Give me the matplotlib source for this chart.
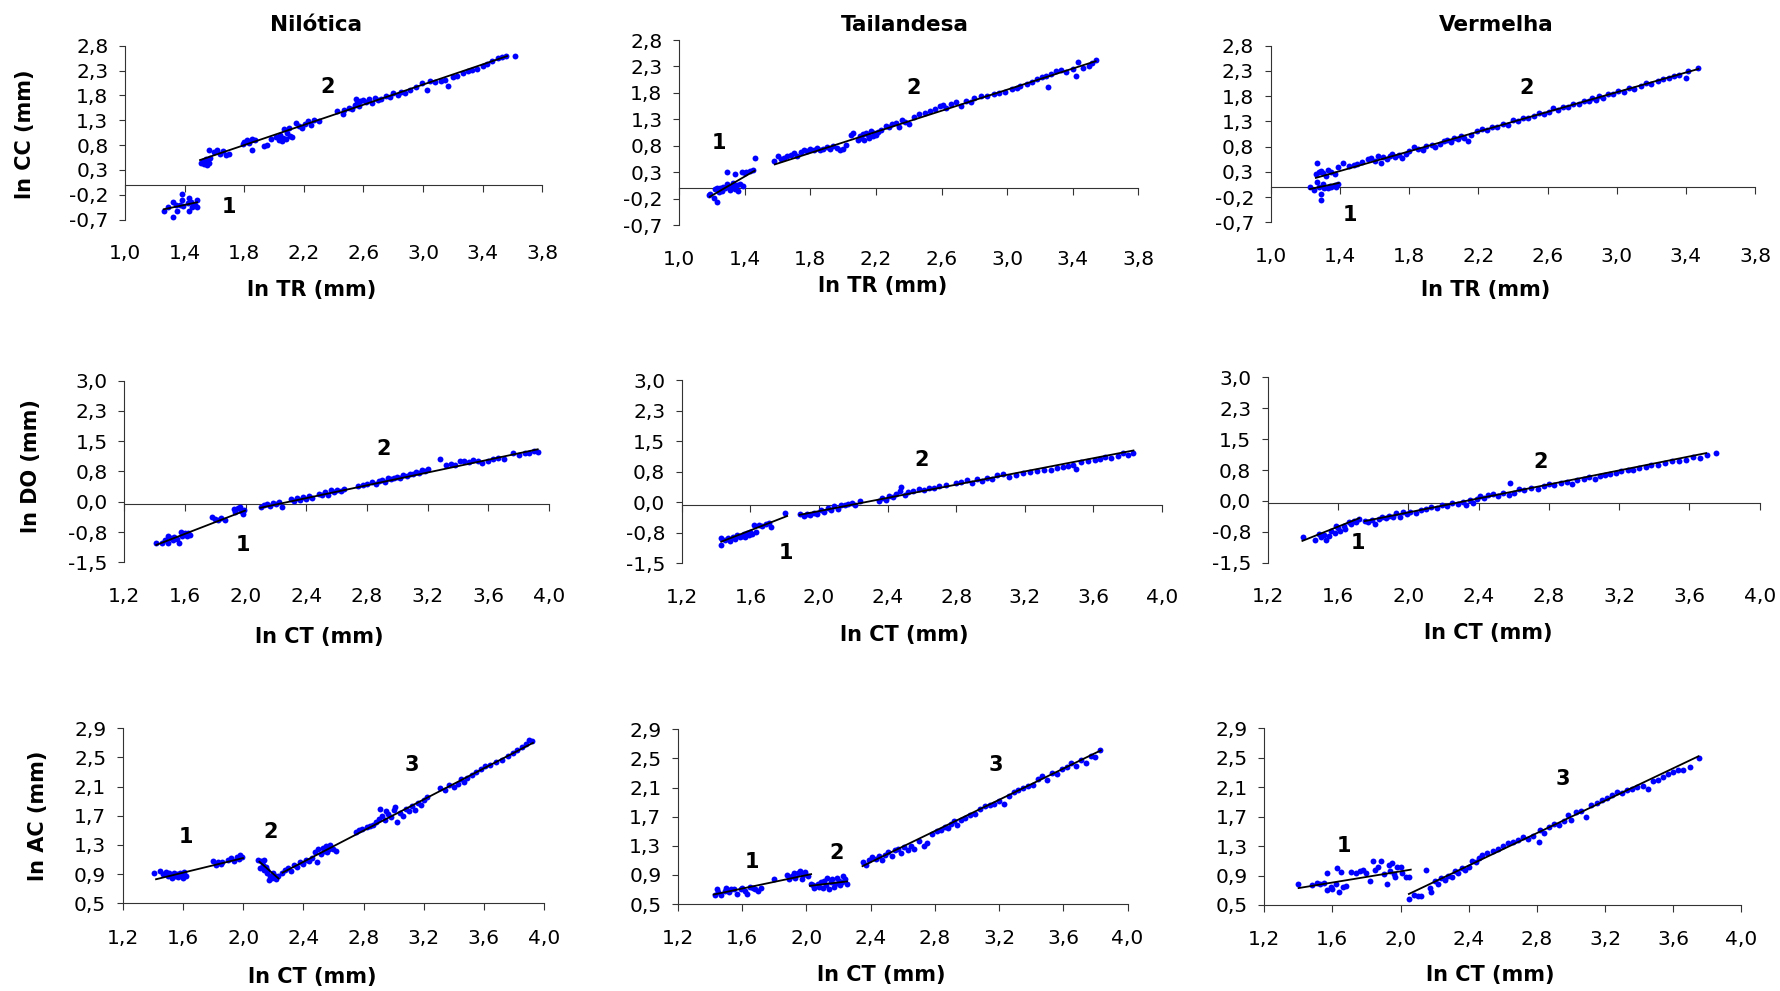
import matplotlib
matplotlib.use('Agg')
import matplotlib.pyplot as plt

W, H = 1780, 991
plt.rcParams['font.family'] = 'DejaVu Sans'

# ---------------- dados ----------------
# linha 1: ln CC x ln TR
nil_cc_x = [1.26, 1.29, 1.32, 1.32, 1.34, 1.35, 1.37, 1.38, 1.38, 1.39,
            1.42, 1.43, 1.43, 1.44, 1.45, 1.47, 1.48, 1.48,
            1.51, 1.52, 1.53, 1.54, 1.55, 1.55, 1.56, 1.56, 1.57, 1.60,
            1.62, 1.64, 1.66, 1.68, 1.70, 1.79, 1.80, 1.82, 1.83, 1.85,
            1.85, 1.87, 1.93, 1.95, 1.98, 2.01, 2.03, 2.04, 2.05, 2.06,
            2.07, 2.08, 2.09, 2.10, 2.11, 2.12, 2.15, 2.17, 2.19, 2.21,
            2.23, 2.25, 2.27, 2.30, 2.42, 2.46, 2.47, 2.50, 2.52, 2.54,
            2.55, 2.56, 2.57, 2.58, 2.60, 2.62, 2.64, 2.66, 2.68, 2.70,
            2.72, 2.75, 2.78, 2.80, 2.83, 2.85, 2.88, 2.91, 2.95, 2.99,
            3.03, 3.05, 3.08, 3.12, 3.15, 3.17, 3.20, 3.23, 3.27, 3.30,
            3.33, 3.36, 3.40, 3.43, 3.46, 3.50, 3.53, 3.56, 3.62]
nil_cc_y = [-0.53, -0.45, -0.34, -0.64, -0.41, -0.52, -0.40, -0.19, -0.31, -0.43,
            -0.37, -0.27, -0.53, -0.34, -0.44, -0.41, -0.31, -0.44,
            0.44, 0.48, 0.42, 0.52, 0.40, 0.47, 0.70, 0.45, 0.55, 0.66,
            0.70, 0.63, 0.68, 0.60, 0.62, 0.82, 0.86, 0.90, 0.84, 0.70,
            0.92, 0.90, 0.78, 0.80, 0.92, 0.96, 0.90, 1.00, 0.88, 0.95,
            1.12, 0.92, 1.05, 1.15, 0.98, 0.96, 1.25, 1.18, 1.15, 1.22,
            1.28, 1.20, 1.30, 1.28, 1.48, 1.42, 1.50, 1.55, 1.52, 1.60,
            1.72, 1.64, 1.58, 1.68, 1.70, 1.66, 1.72, 1.65, 1.74, 1.70,
            1.72, 1.78, 1.76, 1.84, 1.80, 1.86, 1.84, 1.90, 1.96, 2.04,
            1.90, 2.08, 2.06, 2.10, 2.12, 1.98, 2.18, 2.20, 2.26, 2.30,
            2.32, 2.34, 2.40, 2.44, 2.50, 2.55, 2.58, 2.60, 2.59]
nil_cc_fx = [[1.26, 1.483], [1.503, 3.564]]
nil_cc_fy = [[-0.49, -0.35], [0.50, 2.59]]

tai_cc_x = [1.18, 1.19, 1.21, 1.22, 1.23, 1.23, 1.24, 1.25, 1.26, 1.27,
            1.28, 1.29, 1.29, 1.30, 1.31, 1.32, 1.33, 1.34, 1.34, 1.35,
            1.36, 1.37, 1.38, 1.39, 1.40, 1.41, 1.43, 1.45, 1.46,
            1.58, 1.60, 1.62, 1.64, 1.66, 1.68, 1.70, 1.72, 1.74, 1.76,
            1.78, 1.80, 1.82, 1.84, 1.86, 1.88, 1.90, 1.92, 1.94, 1.96,
            1.98, 2.00, 2.02, 2.05, 2.06, 2.09, 2.10, 2.11, 2.12, 2.13,
            2.14, 2.15, 2.16, 2.17, 2.18, 2.19, 2.20, 2.21, 2.23, 2.26,
            2.28, 2.30, 2.32, 2.34, 2.36, 2.38, 2.40, 2.43, 2.46, 2.50,
            2.53, 2.56, 2.59, 2.61, 2.63, 2.66, 2.69, 2.72, 2.75, 2.78,
            2.80, 2.84, 2.88, 2.92, 2.95, 2.99, 3.03, 3.06, 3.08, 3.12,
            3.15, 3.18, 3.21, 3.24, 3.25, 3.27, 3.30, 3.33, 3.36, 3.40,
            3.42, 3.43, 3.46, 3.50, 3.52, 3.54]
tai_cc_y = [-0.12, -0.11, -0.19, -0.02, -0.26, 0.00, -0.08, 0.00, -0.05, 0.02,
            0.00, 0.30, 0.08, 0.05, -0.03, 0.04, 0.10, 0.27, -0.02, 0.06,
            -0.05, 0.08, 0.31, 0.05, 0.28, 0.31, 0.32, 0.35, 0.58,
            0.52, 0.60, 0.55, 0.57, 0.60, 0.62, 0.66, 0.60, 0.68, 0.72,
            0.70, 0.74, 0.72, 0.76, 0.73, 0.75, 0.78, 0.74, 0.80, 0.76,
            0.72, 0.74, 0.82, 1.00, 1.05, 0.92, 0.98, 0.95, 1.02, 0.92,
            1.05, 1.00, 0.94, 1.08, 0.98, 1.04, 1.00, 1.06, 1.10, 1.18,
            1.16, 1.22, 1.24, 1.15, 1.28, 1.25, 1.22, 1.35, 1.40, 1.42,
            1.45, 1.50, 1.55, 1.58, 1.52, 1.60, 1.62, 1.56, 1.64, 1.62,
            1.70, 1.74, 1.75, 1.78, 1.80, 1.82, 1.88, 1.90, 1.94, 1.96,
            2.00, 2.06, 2.10, 2.12, 1.92, 2.15, 2.22, 2.24, 2.20, 2.26,
            2.12, 2.38, 2.28, 2.30, 2.36, 2.42]
tai_cc_fx = [[1.187, 1.46], [1.583, 3.54]]
tai_cc_fy = [[-0.16, 0.33], [0.45, 2.40]]

ver_cc_x = [1.23, 1.25, 1.27, 1.28, 1.29, 1.29, 1.30, 1.31, 1.33, 1.34,
            1.35, 1.37, 1.38, 1.39,
            1.26, 1.27, 1.28, 1.29, 1.30, 1.32, 1.33, 1.35, 1.37, 1.39,
            1.42, 1.45, 1.48, 1.50, 1.53, 1.56, 1.58, 1.60, 1.62, 1.64,
            1.65, 1.67, 1.69, 1.70, 1.72, 1.74, 1.76, 1.78, 1.80, 1.83,
            1.85, 1.88, 1.90, 1.93, 1.95, 1.98, 2.00, 2.02, 2.04, 2.06,
            2.08, 2.10, 2.12, 2.14, 2.16, 2.19, 2.22, 2.25, 2.28, 2.31,
            2.34, 2.37, 2.40, 2.43, 2.46, 2.49, 2.52, 2.55, 2.58, 2.61,
            2.63, 2.66, 2.69, 2.72, 2.75, 2.78, 2.81, 2.84, 2.86, 2.88,
            2.90, 2.92, 2.95, 2.98, 3.01, 3.04, 3.07, 3.10, 3.14, 3.17,
            3.20, 3.24, 3.27, 3.30, 3.33, 3.36, 3.40, 3.41, 3.47]
ver_cc_y = [0.00, -0.06, 0.10, 0.00, -0.13, -0.26, 0.05, -0.02, -0.03, 0.02,
            0.00, 0.04, 0.00, 0.06,
            0.26, 0.48, 0.30, 0.32, 0.27, 0.22, 0.34, 0.30, 0.26, 0.40,
            0.48, 0.42, 0.44, 0.46, 0.50, 0.56, 0.58, 0.52, 0.62, 0.48,
            0.60, 0.55, 0.62, 0.66, 0.60, 0.64, 0.58, 0.66, 0.72, 0.80,
            0.76, 0.74, 0.82, 0.84, 0.80, 0.86, 0.92, 0.94, 0.90, 0.98,
            0.95, 1.02, 0.98, 0.92, 1.04, 1.10, 1.14, 1.12, 1.19, 1.18,
            1.25, 1.22, 1.32, 1.30, 1.37, 1.36, 1.40, 1.46, 1.44, 1.48,
            1.56, 1.53, 1.59, 1.58, 1.65, 1.64, 1.70, 1.70, 1.76, 1.73,
            1.80, 1.76, 1.84, 1.85, 1.90, 1.89, 1.96, 1.95, 2.00, 2.06,
            2.05, 2.10, 2.14, 2.15, 2.20, 2.22, 2.15, 2.30, 2.35]
ver_cc_fx = [[1.228, 1.394], [1.261, 3.473]]
ver_cc_fy = [[-0.04, 0.08], [0.18, 2.34]]

# linha 2: ln DO x ln CT
nil_do_x = [1.41, 1.45, 1.47, 1.49, 1.49, 1.51, 1.52, 1.53, 1.55, 1.56,
            1.57, 1.58, 1.59, 1.60, 1.61, 1.62, 1.63, 1.78, 1.80, 1.82,
            1.84, 1.86, 1.92, 1.93, 1.95, 1.96, 1.97, 1.98, 1.99,
            2.10, 2.12, 2.14, 2.16, 2.18, 2.20, 2.22, 2.24, 2.30, 2.32,
            2.34, 2.36, 2.38, 2.40, 2.42, 2.44, 2.48, 2.50, 2.52, 2.54,
            2.56, 2.58, 2.60, 2.63, 2.65, 2.74, 2.77, 2.80, 2.83, 2.86,
            2.88, 2.90, 2.92, 2.94, 2.96, 2.98, 3.00, 3.02, 3.04, 3.06,
            3.08, 3.10, 3.12, 3.14, 3.16, 3.18, 3.20, 3.28, 3.32, 3.35,
            3.38, 3.41, 3.44, 3.47, 3.50, 3.53, 3.56, 3.60, 3.63, 3.66,
            3.70, 3.76, 3.80, 3.84, 3.87, 3.90, 3.93]
nil_do_y = [-1.03, -1.02, -0.95, -1.01, -0.84, -0.90, -0.95, -0.88, -0.92, -1.03,
            -0.76, -0.85, -0.80, -0.78, -0.86, -0.78, -0.82, -0.38, -0.42, -0.46,
            -0.40, -0.45, -0.18, -0.25, -0.15, -0.12, -0.22, -0.30, -0.20,
            -0.12, -0.08, -0.05, -0.10, -0.02, -0.06, 0.00, -0.12, 0.08, 0.02,
            0.10, 0.05, 0.12, 0.08, 0.15, 0.10, 0.20, 0.16, 0.24, 0.18,
            0.28, 0.24, 0.30, 0.26, 0.32, 0.40, 0.42, 0.45, 0.48, 0.44,
            0.52, 0.55, 0.50, 0.58, 0.56, 0.60, 0.62, 0.58, 0.66, 0.64,
            0.70, 0.68, 0.74, 0.72, 0.78, 0.76, 0.80, 1.06, 0.90, 0.94,
            0.92, 1.00, 1.02, 0.98, 1.04, 1.00, 0.96, 1.02, 1.06, 1.08,
            1.05, 1.20, 1.16, 1.22, 1.20, 1.26, 1.24]
nil_do_fx = [[1.41, 1.995], [2.096, 3.925]]
nil_do_fy = [[-1.07, -0.22], [-0.15, 1.30]]

tai_do_x = [1.43, 1.43, 1.45, 1.47, 1.48, 1.50, 1.51, 1.52, 1.54, 1.55,
            1.56, 1.57, 1.58, 1.59, 1.60, 1.61, 1.62, 1.63, 1.65, 1.67,
            1.69, 1.71, 1.72, 1.80,
            1.89, 1.91, 1.93, 1.95, 1.97, 1.99, 2.01, 2.03, 2.05, 2.07,
            2.09, 2.11, 2.13, 2.15, 2.17, 2.19, 2.21, 2.24, 2.35, 2.37,
            2.39, 2.41, 2.43, 2.45, 2.47, 2.48, 2.50, 2.52, 2.55, 2.58,
            2.61, 2.64, 2.67, 2.70, 2.74, 2.80, 2.83, 2.86, 2.89, 2.92,
            2.95, 2.98, 3.01, 3.04, 3.07, 3.11, 3.15, 3.19, 3.23, 3.27,
            3.31, 3.35, 3.39, 3.42, 3.45, 3.48, 3.50, 3.53, 3.57, 3.61,
            3.64, 3.67, 3.70, 3.74, 3.77, 3.80, 3.83]
tai_do_y = [-1.05, -0.89, -0.92, -0.88, -0.95, -0.85, -0.90, -0.80, -0.86, -0.82,
            -0.78, -0.85, -0.76, -0.80, -0.74, -0.78, -0.56, -0.72, -0.56, -0.58,
            -0.54, -0.52, -0.60, -0.26,
            -0.30, -0.34, -0.28, -0.32, -0.26, -0.30, -0.20, -0.24, -0.14, -0.18,
            -0.10, -0.16, -0.06, -0.08, -0.04, -0.02, -0.06, 0.02, 0.04, 0.10,
            0.06, 0.16, 0.12, 0.20, 0.28, 0.38, 0.18, 0.24, 0.28, 0.32,
            0.30, 0.36, 0.34, 0.40, 0.42, 0.46, 0.50, 0.54, 0.48, 0.56,
            0.52, 0.60, 0.58, 0.66, 0.70, 0.62, 0.68, 0.72, 0.74, 0.76,
            0.80, 0.78, 0.84, 0.86, 0.88, 0.92, 0.82, 0.98, 1.00, 1.04,
            1.06, 1.10, 1.08, 1.14, 1.20, 1.16, 1.22]
tai_do_fx = [[1.43, 1.814], [1.887, 3.833]]
tai_do_fy = [[-0.97, -0.34], [-0.31, 1.27]]

ver_do_x = [1.40, 1.47, 1.49, 1.50, 1.52, 1.53, 1.55, 1.56, 1.58, 1.59,
            1.60, 1.61, 1.63, 1.64, 1.66, 1.67, 1.69, 1.70, 1.72,
            1.75, 1.77, 1.79, 1.81, 1.83, 1.85, 1.87, 1.89, 1.91, 1.93,
            1.95, 1.97, 1.99, 2.01, 2.04, 2.07, 2.10, 2.13, 2.16, 2.19,
            2.22, 2.25, 2.28, 2.31, 2.33, 2.35, 2.37, 2.39, 2.41, 2.43,
            2.45, 2.48, 2.51, 2.54, 2.57, 2.58, 2.60, 2.63, 2.66, 2.70,
            2.74, 2.77, 2.80, 2.83, 2.87, 2.90, 2.93, 2.96, 3.00, 3.03,
            3.06, 3.09, 3.12, 3.15, 3.18, 3.21, 3.25, 3.28, 3.31, 3.35,
            3.38, 3.42, 3.46, 3.50, 3.54, 3.58, 3.62, 3.66, 3.70, 3.75]
ver_do_y = [-0.88, -0.95, -0.80, -0.88, -0.82, -0.95, -0.84, -0.72, -0.78, -0.60,
            -0.66, -0.72, -0.60, -0.68, -0.50, -0.56, -0.48, -0.52, -0.44,
            -0.48, -0.52, -0.46, -0.56, -0.44, -0.40, -0.42, -0.36, -0.40, -0.30,
            -0.38, -0.28, -0.32, -0.26, -0.30, -0.22, -0.20, -0.16, -0.18, -0.10,
            -0.12, -0.06, -0.08, -0.02, -0.10, 0.02, -0.06, 0.04, 0.12, 0.08,
            0.14, 0.16, 0.12, 0.18, 0.14, 0.44, 0.20, 0.28, 0.26, 0.32,
            0.30, 0.36, 0.40, 0.38, 0.44, 0.46, 0.42, 0.50, 0.54, 0.58,
            0.52, 0.60, 0.62, 0.66, 0.68, 0.72, 0.74, 0.76, 0.80, 0.82,
            0.86, 0.88, 0.92, 0.96, 0.98, 1.00, 1.06, 1.04, 1.12, 1.16]
ver_do_fx = [[1.396, 1.719], [1.751, 3.695]]
ver_do_fy = [[-0.97, -0.42], [-0.49, 1.16]]

# linha 3: ln AC x ln CT
nil_ac_x = [1.41, 1.45, 1.47, 1.49, 1.50, 1.51, 1.52, 1.53, 1.54, 1.55,
            1.56, 1.57, 1.58, 1.59, 1.60, 1.61, 1.62, 1.80, 1.82, 1.83,
            1.85, 1.86, 1.90, 1.92, 1.94, 1.96, 1.97, 1.98, 1.99,
            2.10, 2.11, 2.12, 2.13, 2.14, 2.14, 2.15, 2.16, 2.16, 2.17,
            2.18, 2.19, 2.20, 2.21, 2.22, 2.23,
            2.26, 2.28, 2.30, 2.32, 2.34, 2.36, 2.38, 2.40, 2.42, 2.44,
            2.46, 2.48, 2.49, 2.50, 2.52, 2.53, 2.54, 2.55, 2.56, 2.57,
            2.58, 2.60, 2.62, 2.75, 2.77, 2.79, 2.82, 2.84, 2.86, 2.88,
            2.90, 2.91, 2.92, 2.94, 2.95, 2.96, 2.98, 3.00, 3.01, 3.02,
            3.04, 3.06, 3.08, 3.10, 3.12, 3.14, 3.16, 3.18, 3.20, 3.22,
            3.31, 3.34, 3.37, 3.40, 3.43, 3.45, 3.47, 3.49, 3.52, 3.55,
            3.58, 3.61, 3.64, 3.68, 3.72, 3.76, 3.79, 3.82, 3.85, 3.88,
            3.90, 3.92]
nil_ac_y = [0.91, 0.94, 0.90, 0.93, 0.87, 0.91, 0.89, 0.85, 0.92, 0.88,
            0.90, 0.86, 0.92, 0.89, 0.85, 0.93, 0.88, 1.08, 1.03, 1.06,
            1.04, 1.07, 1.10, 1.12, 1.08, 1.14, 1.11, 1.16, 1.13,
            1.10, 0.98, 1.08, 1.02, 1.09, 0.96, 1.00, 0.91, 0.95, 0.82,
            0.88, 0.85, 0.92, 0.87, 0.84, 0.88,
            0.92, 0.95, 0.98, 0.94, 1.02, 1.00, 1.06, 1.04, 1.10, 1.08,
            1.12, 1.20, 1.07, 1.24, 1.18, 1.26, 1.22, 1.28, 1.20, 1.25,
            1.30, 1.24, 1.22, 1.48, 1.50, 1.52, 1.54, 1.56, 1.58, 1.62,
            1.66, 1.80, 1.70, 1.64, 1.76, 1.72, 1.68, 1.78, 1.82, 1.62,
            1.74, 1.70, 1.80, 1.76, 1.84, 1.78, 1.88, 1.85, 1.92, 1.96,
            2.08, 2.06, 2.12, 2.10, 2.14, 2.20, 2.16, 2.22, 2.26, 2.30,
            2.34, 2.38, 2.40, 2.44, 2.46, 2.52, 2.56, 2.60, 2.64, 2.68,
            2.74, 2.72]
nil_ac_fx = [[1.421, 1.999], [2.108, 2.235], [2.261, 3.926]]
nil_ac_fy = [[0.83, 1.12], [1.07, 0.84], [0.92, 2.70]]

tai_ac_x = [1.43, 1.44, 1.45, 1.47, 1.49, 1.50, 1.52, 1.53, 1.55, 1.57,
            1.59, 1.60, 1.62, 1.63, 1.65, 1.67, 1.68, 1.70, 1.72, 1.80,
            1.88, 1.89, 1.91, 1.92, 1.93, 1.95, 1.96, 1.97, 1.98, 1.99,
            2.01, 2.03,
            2.04, 2.05, 2.07, 2.08, 2.09, 2.10, 2.11, 2.12, 2.13, 2.14,
            2.15, 2.16, 2.17, 2.18, 2.19, 2.20, 2.21, 2.22, 2.23, 2.24,
            2.25,
            2.35, 2.37, 2.39, 2.41, 2.43, 2.45, 2.47, 2.49, 2.51, 2.53,
            2.55, 2.57, 2.59, 2.61, 2.63, 2.65, 2.67, 2.70, 2.73, 2.75,
            2.78, 2.81, 2.84, 2.86, 2.88, 2.90, 2.92, 2.94, 2.96, 2.99,
            3.02, 3.05, 3.08, 3.11, 3.14, 3.17, 3.20, 3.23, 3.26, 3.29,
            3.32, 3.35, 3.38, 3.41, 3.44, 3.47, 3.50, 3.53, 3.56, 3.59,
            3.62, 3.65, 3.68, 3.71, 3.74, 3.77, 3.80, 3.83]
tai_ac_y = [0.62, 0.70, 0.66, 0.62, 0.68, 0.72, 0.66, 0.70, 0.71, 0.64,
            0.70, 0.72, 0.68, 0.64, 0.74, 0.72, 0.70, 0.68, 0.72, 0.84,
            0.90, 0.85, 0.88, 0.93, 0.86, 0.92, 0.95, 0.84, 0.90, 0.94,
            0.88, 0.77,
            0.76, 0.72, 0.78, 0.74, 0.80, 0.72, 0.82, 0.76, 0.86, 0.70,
            0.80, 0.84, 0.74, 0.78, 0.86, 0.82, 0.76, 0.80, 0.88, 0.84,
            0.78,
            1.08, 1.04, 1.10, 1.14, 1.12, 1.16, 1.10, 1.18, 1.22, 1.16,
            1.24, 1.26, 1.20, 1.28, 1.24, 1.30, 1.26, 1.36, 1.30, 1.34,
            1.46, 1.50, 1.52, 1.56, 1.54, 1.60, 1.64, 1.58, 1.66, 1.68,
            1.72, 1.74, 1.80, 1.84, 1.86, 1.88, 1.92, 1.88, 1.98, 2.04,
            2.06, 2.10, 2.12, 2.14, 2.22, 2.26, 2.20, 2.30, 2.28, 2.36,
            2.38, 2.44, 2.40, 2.48, 2.44, 2.54, 2.52, 2.62]
tai_ac_fx = [[1.422, 2.029], [2.022, 2.253], [2.349, 3.833]]
tai_ac_fy = [[0.63, 0.91], [0.75, 0.81], [1.02, 2.61]]

ver_ac_x = [1.40, 1.48, 1.51, 1.53, 1.55, 1.57, 1.57, 1.59, 1.60, 1.62,
            1.63, 1.64, 1.65, 1.66, 1.68, 1.71, 1.74, 1.76, 1.78, 1.80,
            1.82, 1.84, 1.85, 1.87, 1.885, 1.90, 1.92, 1.93, 1.94, 1.95,
            1.96, 1.97, 1.98, 2.00, 2.01, 2.03, 2.05,
            2.05, 2.08, 2.10, 2.12, 2.15, 2.17, 2.18, 2.20, 2.22, 2.24,
            2.26, 2.28, 2.30, 2.32, 2.34, 2.36, 2.38, 2.40, 2.42, 2.44,
            2.46, 2.48, 2.51, 2.54, 2.57, 2.60, 2.63, 2.66, 2.69, 2.72,
            2.75, 2.78, 2.81, 2.82, 2.84, 2.87, 2.90, 2.93, 2.96, 2.98,
            3.00, 3.03, 3.06, 3.09, 3.12, 3.15, 3.18, 3.21, 3.24, 3.27,
            3.30, 3.33, 3.36, 3.39, 3.42, 3.45, 3.48, 3.51, 3.54, 3.57,
            3.60, 3.63, 3.66, 3.70, 3.75]
ver_ac_y = [0.785, 0.77, 0.80, 0.78, 0.80, 0.93, 0.70, 0.75, 0.72, 0.78,
            1.00, 0.68, 0.95, 0.74, 0.76, 0.95, 0.93, 0.96, 0.98, 0.94,
            0.82, 1.10, 0.98, 1.02, 1.10, 0.92, 0.79, 1.04, 0.96, 1.07,
            0.92, 0.88, 1.02, 1.02, 0.94, 0.88, 0.88,
            0.58, 0.64, 0.62, 0.62, 0.98, 0.73, 0.67, 0.82, 0.78, 0.86,
            0.84, 0.90, 0.88, 0.96, 0.94, 1.00, 0.98, 1.02, 1.10, 1.08,
            1.14, 1.18, 1.20, 1.24, 1.26, 1.30, 1.34, 1.36, 1.38, 1.42,
            1.40, 1.44, 1.36, 1.52, 1.48, 1.56, 1.60, 1.58, 1.64, 1.72,
            1.66, 1.76, 1.78, 1.70, 1.86, 1.88, 1.92, 1.96, 2.00, 2.04,
            2.02, 2.06, 2.08, 2.10, 2.12, 2.08, 2.18, 2.20, 2.24, 2.28,
            2.30, 2.33, 2.34, 2.38, 2.50]
ver_ac_fx = [[1.402, 2.06], [2.049, 3.748]]
ver_ac_fy = [[0.73, 0.98], [0.65, 2.52]]

# eixos
xt_tr = [1.0, 1.4, 1.8, 2.2, 2.6, 3.0, 3.4, 3.8]
xt_ct = [1.2, 1.6, 2.0, 2.4, 2.8, 3.2, 3.6, 4.0]
yt_cc = [-0.7, -0.2, 0.3, 0.8, 1.3, 1.8, 2.3, 2.8]
yl_cc = ['-0,7', '-0,2', '0,3', '0,8', '1,3', '1,8', '2,3', '2,8']
yt_do = [-1.5, -0.75, 0.0, 0.75, 1.5, 2.25, 3.0]
yl_do = ['-1,5', '-0,8', '0,0', '0,8', '1,5', '2,3', '3,0']
yt_ac = [0.5, 0.9, 1.3, 1.7, 2.1, 2.5, 2.9]
yl_ac = ['0,5', '0,9', '1,3', '1,7', '2,1', '2,5', '2,9']

titulos = ['Nilótica', 'Tailandesa', 'Vermelha']

# ---------------- layout (pixels da figura) ----------------
caixas = [(125.1, 45.7, 542.2, 219.7), (679.2, 40, 1138.3, 225.3), (1270.7, 45.7, 1755.1, 222.3),
          (124.4, 380.7, 549.1, 562.3), (681.8, 380, 1162.1, 563.3), (1268.0, 377.3, 1759.7, 562.7),
          (122.8, 728.3, 544.1, 903.3), (678.0, 729.3, 1127.6, 904), (1264.2, 728.3, 1741.4, 905)]
pos_xlabel = [(312, 290), (883, 286), (1486, 290),
              (319, 637), (904, 635), (1488, 633),
              (312, 977), (881, 975), (1490, 975)]
pos_titulo = [(316, 25), (905, 25), (1496, 25)]
pos_ylabel = [(25, 134, 'ln CC (mm)'), (31, 466, 'ln DO (mm)'), (38, 816, 'ln AC (mm)')]
rotulos = [[('1', 1.70, -0.45), ('2', 2.36, 1.96)],
           [('1', 1.24, 0.85), ('2', 2.43, 1.90)],
           [('1', 1.46, -0.56), ('2', 2.48, 1.97)],
           [('1', 1.98, -1.07), ('2', 2.91, 1.30)],
           [('1', 1.81, -1.24), ('2', 2.60, 1.04)],
           [('1', 1.71, -1.01), ('2', 2.75, 0.95)],
           [('1', 1.62, 1.41), ('2', 2.18, 1.48), ('3', 3.12, 2.40)],
           [('1', 1.66, 1.08), ('2', 2.19, 1.205), ('3', 3.18, 2.41)],
           [('1', 1.67, 1.30), ('3', 2.95, 2.21)]]

paineis = [
    (nil_cc_x, nil_cc_y, nil_cc_fx, nil_cc_fy, xt_tr, yt_cc, yl_cc, 0.0, 'ln TR (mm)'),
    (tai_cc_x, tai_cc_y, tai_cc_fx, tai_cc_fy, xt_tr, yt_cc, yl_cc, 0.0, 'ln TR (mm)'),
    (ver_cc_x, ver_cc_y, ver_cc_fx, ver_cc_fy, xt_tr, yt_cc, yl_cc, 0.0, 'ln TR (mm)'),
    (nil_do_x, nil_do_y, nil_do_fx, nil_do_fy, xt_ct, yt_do, yl_do, -0.06, 'ln CT (mm)'),
    (tai_do_x, tai_do_y, tai_do_fx, tai_do_fy, xt_ct, yt_do, yl_do, -0.06, 'ln CT (mm)'),
    (ver_do_x, ver_do_y, ver_do_fx, ver_do_fy, xt_ct, yt_do, yl_do, -0.06, 'ln CT (mm)'),
    (nil_ac_x, nil_ac_y, nil_ac_fx, nil_ac_fy, xt_ct, yt_ac, yl_ac, None, 'ln CT (mm)'),
    (tai_ac_x, tai_ac_y, tai_ac_fx, tai_ac_fy, xt_ct, yt_ac, yl_ac, None, 'ln CT (mm)'),
    (ver_ac_x, ver_ac_y, ver_ac_fx, ver_ac_fy, xt_ct, yt_ac, yl_ac, None, 'ln CT (mm)'),
]

TICK_FS = 14.5
AX_COR = '#333333'


def fmt(v):
    return f'{v:.1f}'.replace('.', ',')


fig = plt.figure(figsize=(W / 100, H / 100), dpi=100)

for i, (xs, ys, fx, fy, xt, yt, yl, cruz, xlab) in enumerate(paineis):
    l, t, r, b = caixas[i]
    ax = fig.add_axes([l / W, 1 - b / H, (r - l) / W, (b - t) / H])
    ax.scatter(xs, ys, s=18, color='#0000ff', linewidths=0, zorder=3, clip_on=False)
    for a, c in zip(fx, fy):
        ax.plot(a, c, color='black', lw=1.3, zorder=4)
    ax.set_xlim(xt[0], xt[-1])
    ax.set_ylim(yt[0], yt[-1])
    ax.set_xticks(xt)
    ax.set_xticklabels([fmt(v) for v in xt])
    ax.set_yticks(yt)
    ax.set_yticklabels(yl)
    for s in ['top', 'right']:
        ax.spines[s].set_visible(False)
    ax.spines['left'].set_linewidth(0.8)
    ax.spines['left'].set_color(AX_COR)
    ax.tick_params(axis='y', length=4, width=0.8, pad=8, labelsize=TICK_FS, color=AX_COR)
    if cruz is None:
        ax.spines['bottom'].set_linewidth(0.8)
        ax.spines['bottom'].set_color(AX_COR)
        ax.tick_params(axis='x', length=4.8, width=0.8, pad=13.4, labelsize=TICK_FS, color=AX_COR)
    else:
        # eixo horizontal cruza em y = cruz, rótulos ficam embaixo
        ax.spines['bottom'].set_visible(False)
        ax.tick_params(axis='x', length=0, pad=17.6, labelsize=TICK_FS)
        sec = ax.secondary_xaxis((cruz - yt[0]) / (yt[-1] - yt[0]))
        sec.set_xticks(xt)
        sec.tick_params(axis='x', length=4.8, width=0.8, color=AX_COR,
                        labelbottom=False, labeltop=False)
        for sp in sec.spines.values():
            sp.set_linewidth(0.8)
            sp.set_color(AX_COR)
    for txt, tx, ty in rotulos[i]:
        ax.text(tx, ty, txt, fontsize=15, fontweight='bold', ha='center', va='center')
    px, py = pos_xlabel[i]
    fig.text(px / W, 1 - py / H, xlab, fontsize=15, fontweight='bold',
             ha='center', va='center')

for (px, py), ttl in zip(pos_titulo, titulos):
    fig.text(px / W, 1 - py / H, ttl, fontsize=15.5, fontweight='bold',
             ha='center', va='center')

for px, py, txt in pos_ylabel:
    fig.text(px / W, 1 - py / H, txt, fontsize=15, fontweight='bold',
             ha='center', va='center', rotation=90)

fig.savefig('out.png', dpi=100)
plt.close(fig)
